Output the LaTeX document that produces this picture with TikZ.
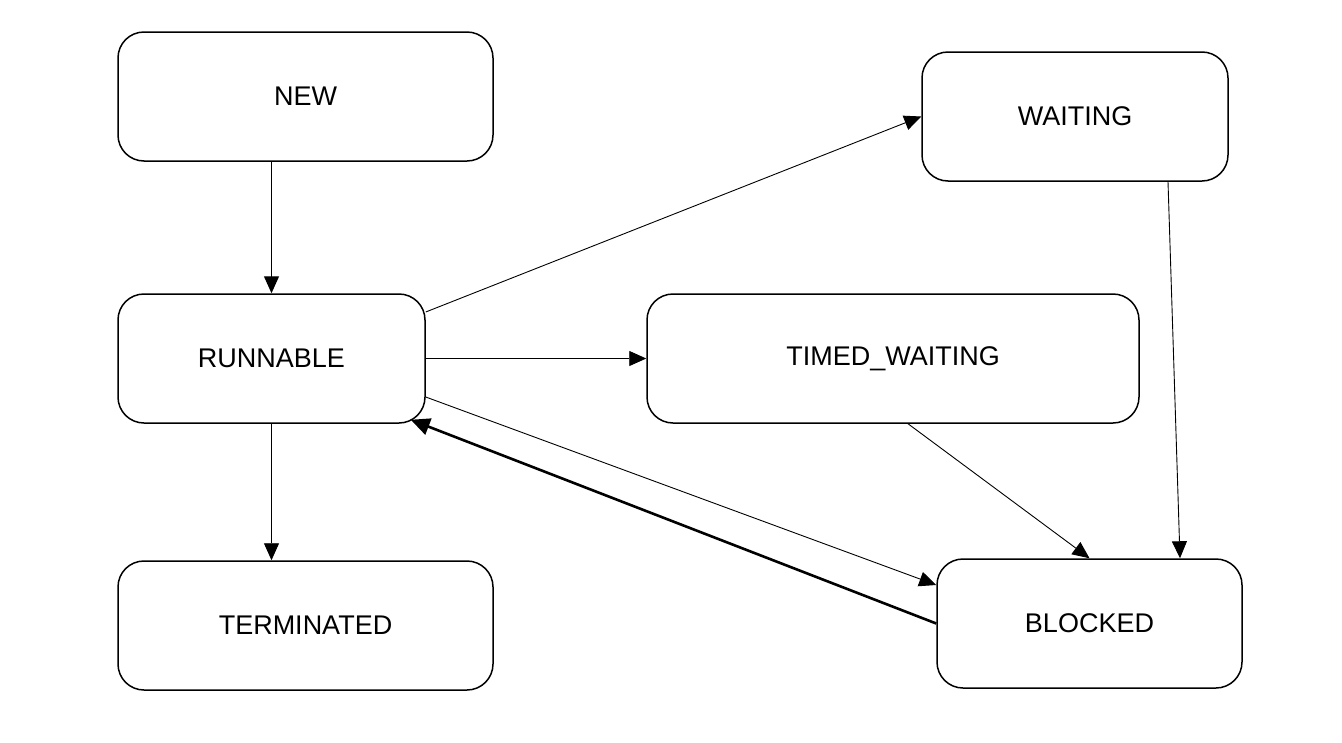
\documentclass[tikz,border=0pt]{standalone}
\usepackage{fontspec}
\setmainfont{Liberation Sans}
\usetikzlibrary{arrows.meta}

\begin{document}
\begin{tikzpicture}[x=1pt,y=-1pt,
    state/.style={draw, rounded corners=26pt, line width=1.5pt, minimum height=129pt,
      inner sep=0pt, font=\fontsize{27}{32}\selectfont},
    trans/.style={-{Triangle[length=17pt,width=15pt]}, line width=0.9pt},
    back/.style={-{Triangle[length=19pt,width=17pt]}, line width=2.6pt}]
  \useasboundingbox (0,0) rectangle (1342,742);
  % states
  \node[state, minimum width=375pt] (NEW) at (305.5,96.5) {NEW};
  \node[state, minimum width=306pt] (WAITING) at (1075,116.5) {WAITING};
  \node[state, minimum width=307pt] (RUNNABLE) at (271.5,358.5) {RUNNABLE};
  \node[state, minimum width=492pt] (TIMED) at (893,358.5) {TIMED\_WAITING};
  \node[state, minimum width=375pt] (TERMINATED) at (305.5,625.5) {TERMINATED};
  \node[state, minimum width=305pt] (BLOCKED) at (1089.5,623.5) {BLOCKED};
  % transitions
  \draw[trans, line width=1.3pt] (NEW.south -| RUNNABLE.north) -- (RUNNABLE.north);
  \draw[trans] ([yshift=46.5pt]RUNNABLE.east) -- (WAITING.west);
  \draw[trans] (RUNNABLE.east) -- (TIMED.west);
  \draw[trans] (RUNNABLE.south) -- (RUNNABLE.south |- TERMINATED.north);
  \draw[trans] ([yshift=-38.5pt]RUNNABLE.east) -- ([yshift=38.5pt]BLOCKED.west);
  \draw[trans] ([xshift=15pt]TIMED.south) -- (BLOCKED.north);
  \draw[trans] ([xshift=93pt]WAITING.south) -- ([xshift=90.5pt]BLOCKED.north);
  \draw[back] (BLOCKED.west) -- ([xshift=-15pt,yshift=4pt]RUNNABLE.south east);
\end{tikzpicture}
\end{document}
